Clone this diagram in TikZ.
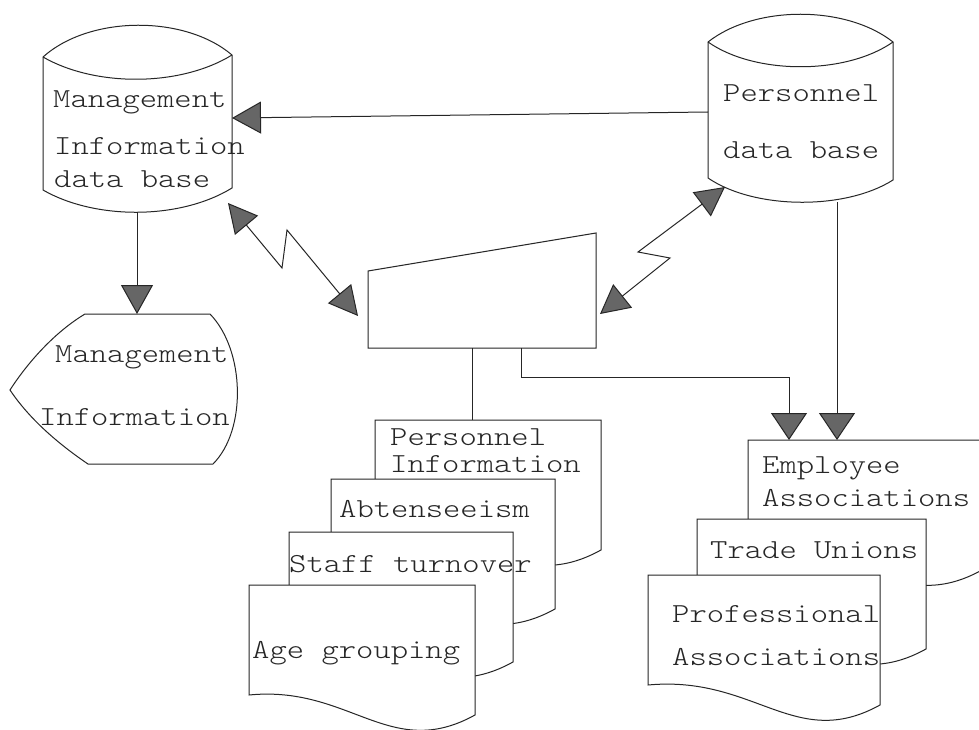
\documentclass[tikz,border=0pt]{standalone}
\usepackage{fontspec}
\newfontfamily\typer{Latin Modern Mono Light}
\usetikzlibrary{arrows.meta}

\tikzset{
  ink/.style={draw=black!85, line width=1pt, line join=miter},
  sheet/.style={ink, fill=white},
  link/.style={ink},
  headA/.style={-{Triangle[length=29pt,width=32pt,fill=black!60]}},
  headB/.style={{Triangle[length=29pt,width=30pt,fill=black!60]}-{Triangle[length=29pt,width=30pt,fill=black!60]}},
  headC/.style={-{Triangle[length=27pt,width=36pt,fill=black!60]}},
  lbl/.style={anchor=base west, inner sep=0pt, text=black!85,
              font=\typer\fontsize{27.5}{29}\selectfont},
}

% typewritten label, widened to typewriter pitch
\newcommand\tw[1]{\scalebox{1.2}[1]{#1}}

% printed document: top-left corner (#1,#2), width #3, wavy lower edge
\newcommand\paperdoc[3]{%
  \draw[sheet, shift={(#1,#2)}] (0,0) -- (#3,0) -- (#3,130)
    .. controls (#3-85,177) and (#3-125,100) .. (0,110) -- cycle;}

\begin{document}
\begin{tikzpicture}[x=1pt, y=-1pt]
\fill[white] (0,0) rectangle (979,730);
\useasboundingbox (0,0) rectangle (979,730);

% ---- Management information data base (disk store)
\draw[sheet] (43,57) .. controls (90,15) and (185,15) .. (232,55)
  -- (232,188) .. controls (180,220) and (95,220) .. (43,190) -- cycle;
\draw[ink] (43,57) .. controls (95,87) and (180,87) .. (232,55);
\node[lbl] (midbA) at (53,108) {\tw{Management}};
\node[lbl] (midbB) at (54,155) {\tw{Information}};
\node[lbl] (midbC) at (54,187) {\tw{data base}};

% ---- Personnel data base (disk store)
\draw[sheet] (708,42) .. controls (755,5) and (846,5) .. (893,42)
  -- (893,180) .. controls (846,210) and (755,210) .. (708,178) -- cycle;
\draw[ink] (708,42) .. controls (755,75) and (846,75) .. (893,42);
\node[lbl] (pdbA) at (723,102) {\tw{Personnel}};
\node[lbl] (pdbB) at (723,159) {\tw{data base}};

% ---- Management information display
\draw[sheet] (85,314) -- (210,314) .. controls (245,350) and (247,430) .. (213,464)
  -- (88,464) .. controls (60,445) and (30,420) .. (10,390)
  .. controls (28,362) and (55,332) .. (85,314) -- cycle;
\node[lbl] (dispA) at (55,362) {\tw{Management}};
\node[lbl] (dispB) at (39,425) {\tw{Information}};

% ---- on-line terminal
\draw[sheet] (368,348) -- (368,271) -- (596,233) -- (596,348) -- cycle;

% ---- personnel reports
\paperdoc{375}{420}{226}
\node[lbl] (repA) at (390,445) {\tw{Personnel}};
\node[lbl] (repB) at (390,472) {\tw{Information}};
\paperdoc{331}{479}{224}
\node[lbl] (repC) at (339,517) {\tw{Abtenseeism}};
\paperdoc{289}{532}{224}
\node[lbl] (repD) at (289,572) {\tw{Staff turnover}};
\paperdoc{249}{585}{226}
\node[lbl] (repE) at (252,658) {\tw{Age grouping}};

% ---- associations reports
\paperdoc{748}{440}{234}
\node[lbl] (assA) at (762,473) {\tw{Employee}};
\node[lbl] (assB) at (762,506) {\tw{Associations}};
\paperdoc{697}{519}{229}
\node[lbl] (assC) at (710,558) {\tw{Trade Unions}};
\paperdoc{648}{575}{232}
\node[lbl] (assD) at (672,622) {\tw{Professional}};
\node[lbl] (assE) at (672,665) {\tw{Associations}};

% ---- connection points
\coordinate (midbE) at (232,118);
\coordinate (midbS) at (137,212);
\coordinate (midbSE) at (228,203);
\coordinate (pdbW) at (708,112);
\coordinate (pdbS) at (837,202);
\coordinate (pdbSW) at (725,187);
\coordinate (dispN) at (137,314);
\coordinate (termW) at (358,316);
\coordinate (termE) at (600,314);
\coordinate (termS1) at (472,348);
\coordinate (termS2) at (521,348);
\coordinate (repN) at (472,420);
\coordinate (assN1) at (789,440);
\coordinate (assN2) at (837,440);
\coordinate (zagA1) at (282,268);
\coordinate (zagA2) at (287,230);
\coordinate (zagB1) at (638,252);
\coordinate (zagB2) at (670,258);

% ---- connectors
\draw[link, headA] (pdbW) -- (midbE);
\draw[link, headA] (midbS) -- (dispN);
\draw[link, headB] (midbSE) -- (zagA1) -- (zagA2) -- (termW);
\draw[link, headB] (pdbSW) -- (zagB1) -- (zagB2) -- (termE);
\draw[link] (termS1) -- (repN);
\draw[link, headC] (termS2) -- (termS2 |- 0,377) -- (assN1 |- 0,377) -- (assN1);
\draw[link, headC] (pdbS) -- (assN2);
\end{tikzpicture}
\end{document}
